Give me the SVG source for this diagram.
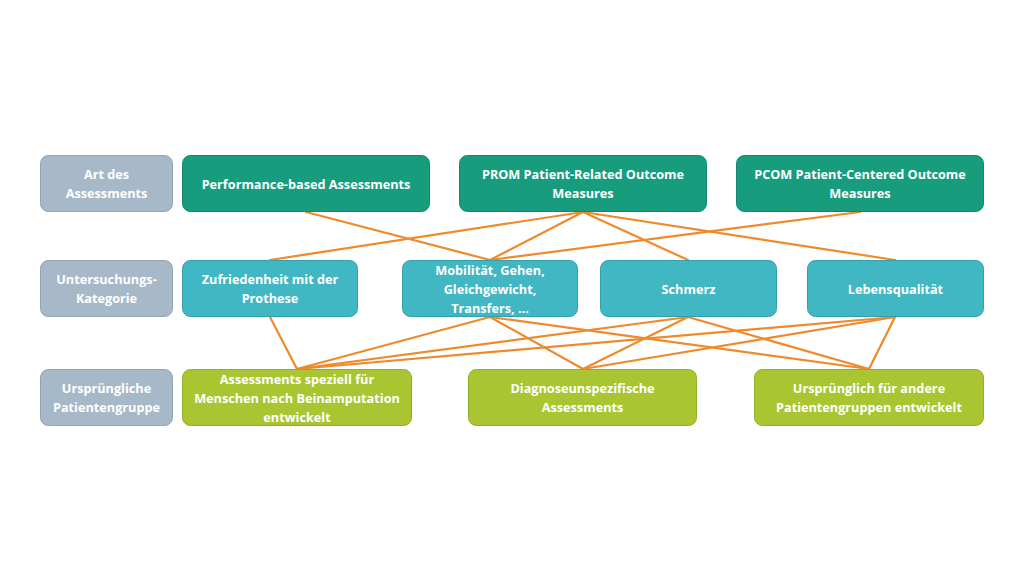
<svg xmlns="http://www.w3.org/2000/svg" width="1024" height="576" viewBox="0 0 1024 576">
<style>
.box{stroke-width:1}
.lab{fill:#A7B9C8;stroke:#8FA3B3}
.dg{fill:#179C7D;stroke:#13876B}
.tl{fill:#41B7C4;stroke:#349EAA}
.lg{fill:#A9C632;stroke:#93AE28}
text{font-family:"Open Sans","Liberation Sans",sans-serif;font-weight:700;font-size:12.7px;fill:#fff;text-anchor:middle}
.c line{stroke:#EE8A2C;stroke-width:2.2;stroke-linecap:round}
</style>
<rect width="1024" height="576" fill="#fff"/>
<g class="c" id="connectors">
<line x1="306" y1="212" x2="490" y2="260"/>
<line x1="583" y1="212" x2="270" y2="260"/>
<line x1="583" y1="212" x2="490" y2="260"/>
<line x1="583" y1="212" x2="688" y2="260"/>
<line x1="583" y1="212" x2="895" y2="260"/>
<line x1="860" y1="212" x2="490" y2="260"/>
<line x1="270" y1="317" x2="297" y2="369"/>
<line x1="490" y1="317" x2="297" y2="369"/>
<line x1="490" y1="317" x2="583" y2="369"/>
<line x1="490" y1="317" x2="869" y2="369"/>
<line x1="688" y1="317" x2="297" y2="369"/>
<line x1="688" y1="317" x2="583" y2="369"/>
<line x1="688" y1="317" x2="869" y2="369"/>
<line x1="895" y1="317" x2="297" y2="369"/>
<line x1="895" y1="317" x2="583" y2="369"/>
<line x1="895" y1="317" x2="869" y2="369"/>
</g>
<g id="lab1"><rect class="box lab" x="40.5" y="155.5" width="132" height="56" rx="8"/><text x="106.5" y="179">Art des</text><text x="106.5" y="198">Assessments</text></g>
<g id="perf"><rect class="box dg" x="182.5" y="155.5" width="247" height="56" rx="8"/><text x="306" y="188.5">Performance-based Assessments</text></g>
<g id="prom"><rect class="box dg" x="459.5" y="155.5" width="247" height="56" rx="8"/><text x="583" y="179">PROM Patient-Related Outcome</text><text x="583" y="198">Measures</text></g>
<g id="pcom"><rect class="box dg" x="736.5" y="155.5" width="247" height="56" rx="8"/><text x="860" y="179">PCOM Patient-Centered Outcome</text><text x="860" y="198">Measures</text></g>
<g id="lab2"><rect class="box lab" x="40.5" y="260.5" width="132" height="56" rx="8"/><text x="106.5" y="284">Untersuchungs-</text><text x="106.5" y="303">Kategorie</text></g>
<g id="zuf"><rect class="box tl" x="182.5" y="260.5" width="175" height="56" rx="8"/><text x="270" y="284">Zufriedenheit mit der</text><text x="270" y="303">Prothese</text></g>
<g id="mob"><rect class="box tl" x="402.5" y="260.5" width="175" height="56" rx="8"/><text x="490" y="274.5">Mobilität, Gehen,</text><text x="490" y="293.5">Gleichgewicht,</text><text x="490" y="312.5">Transfers, …</text></g>
<g id="sch"><rect class="box tl" x="600.5" y="260.5" width="176" height="56" rx="8"/><text x="688.5" y="293.5">Schmerz</text></g>
<g id="leb"><rect class="box tl" x="807.5" y="260.5" width="176" height="56" rx="8"/><text x="895.5" y="293.5">Lebensqualität</text></g>
<g id="lab3"><rect class="box lab" x="40.5" y="369.5" width="132" height="56" rx="8"/><text x="106.5" y="393">Ursprüngliche</text><text x="106.5" y="412">Patientengruppe</text></g>
<g id="asp"><rect class="box lg" x="182.5" y="369.5" width="229" height="56" rx="8"/><text x="297" y="384">Assessments speziell für</text><text x="297" y="403">Menschen nach Beinamputation</text><text x="297" y="422">entwickelt</text></g>
<g id="diag"><rect class="box lg" x="468.5" y="369.5" width="228" height="56" rx="8"/><text x="582.5" y="393">Diagnoseunspezifische</text><text x="582.5" y="412">Assessments</text></g>
<g id="urs"><rect class="box lg" x="754.5" y="369.5" width="229" height="56" rx="8"/><text x="869" y="393">Ursprünglich für andere</text><text x="869" y="412">Patientengruppen entwickelt</text></g>
</svg>
